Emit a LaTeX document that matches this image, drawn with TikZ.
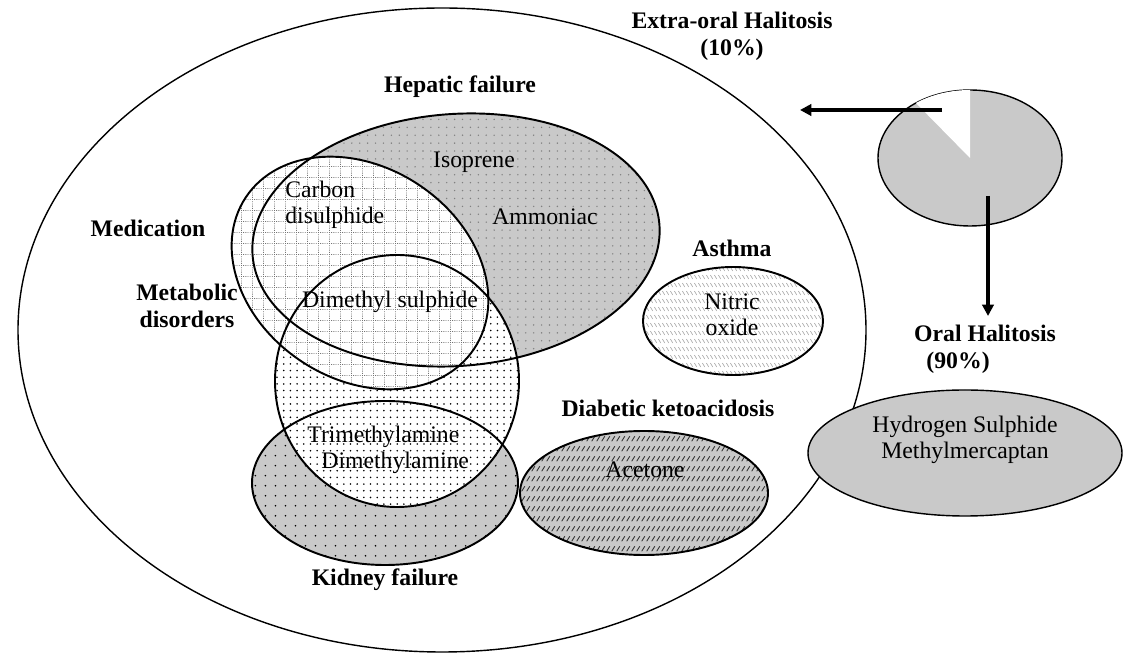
\documentclass[tikz,border=0pt]{standalone}
\usepackage{fontspec}
\setmainfont{Liberation Serif}
\usetikzlibrary{patterns,arrows.meta}
\definecolor{fillg}{gray}{0.79}

\pgfdeclarepatternformonly{hepdots}{\pgfqpoint{-1pt}{-1pt}}{\pgfqpoint{5.5pt}{5.5pt}}{\pgfqpoint{4.5pt}{4.5pt}}{%
  \pgfpathcircle{\pgfqpoint{2.25pt}{2.25pt}}{0.45pt}\pgfusepath{fill}}
\pgfdeclarepatternformonly{metdots}{\pgfqpoint{-1pt}{-1pt}}{\pgfqpoint{4.8pt}{4.8pt}}{\pgfqpoint{3.8pt}{3.8pt}}{%
  \pgfpathcircle{\pgfqpoint{1.9pt}{1.9pt}}{0.5pt}\pgfusepath{fill}}
\pgfdeclarepatternformonly{kiddots}{\pgfqpoint{-1pt}{-1pt}}{\pgfqpoint{6.7pt}{6.7pt}}{\pgfqpoint{5.7pt}{5.7pt}}{%
  \pgfpathcircle{\pgfqpoint{2.85pt}{2.85pt}}{0.5pt}\pgfusepath{fill}}
\pgfdeclarepatternformonly{medgrid}{\pgfqpoint{0pt}{0pt}}{\pgfqpoint{6.25pt}{6.25pt}}{\pgfqpoint{6.25pt}{6.25pt}}{%
  \pgfsetlinewidth{0.45pt}\pgfsetdash{{0.5pt}{0.75pt}}{0pt}%
  \pgfpathmoveto{\pgfqpoint{0pt}{0.3pt}}\pgfpathlineto{\pgfqpoint{6.25pt}{0.3pt}}%
  \pgfpathmoveto{\pgfqpoint{0.3pt}{0pt}}\pgfpathlineto{\pgfqpoint{0.3pt}{6.25pt}}%
  \pgfusepath{stroke}}
\pgfdeclarepatternformonly{nwdash}{\pgfqpoint{0pt}{0pt}}{\pgfqpoint{2.3pt}{4.5pt}}{\pgfqpoint{2.3pt}{4.5pt}}{%
  \pgfsetlinewidth{0.4pt}%
  \pgfpathmoveto{\pgfqpoint{0.3pt}{3.4pt}}\pgfpathlineto{\pgfqpoint{1.9pt}{1.2pt}}\pgfusepath{stroke}}
\pgfdeclarepatternformonly{nedash}{\pgfqpoint{0pt}{0pt}}{\pgfqpoint{2.8pt}{5.6pt}}{\pgfqpoint{2.8pt}{5.6pt}}{%
  \pgfsetlinewidth{0.5pt}%
  \pgfpathmoveto{\pgfqpoint{0.4pt}{1.0pt}}\pgfpathlineto{\pgfqpoint{2.2pt}{3.9pt}}\pgfusepath{stroke}}

\begin{document}
\begin{tikzpicture}[x=0.02cm,y=-0.02cm,
  lab/.style={font=\fontsize{13.5}{15.5}\selectfont\bfseries, align=center, inner sep=0pt},
  txt/.style={font=\fontsize{13.5}{14.5}\selectfont, align=center, inner sep=0pt},
  outl/.style={draw=black, line width=1.1pt},
  thin/.style={draw=black, line width=0.8pt},
  arr/.style={line width=2pt, -{Triangle[length=6.5pt,width=6.5pt]}}]
\useasboundingbox (0,0) rectangle (1123,661);

% outer ellipse (extra-oral)
\draw[thin, fill=white] (442,330) ellipse [x radius=424, y radius=322];

% kidney failure
\path[fill=fillg] (385,483) ellipse [x radius=133, y radius=82];
\path[pattern=kiddots] (385,483) ellipse [x radius=133, y radius=82];
% hepatic failure
\path[fill=fillg, rotate around={4.25:(456,240)}] (456,240) ellipse [x radius=204, y radius=126];
\path[pattern=hepdots, pattern color=black!50, rotate around={4.25:(456,240)}] (456,240) ellipse [x radius=204, y radius=126];
% metabolic disorders
\path[fill=white] (397,381) ellipse [x radius=122, y radius=126];
\path[pattern=metdots] (397,381) ellipse [x radius=122, y radius=126];
% medication
\path[fill=white, rotate around={-33.5:(360,273)}] (360,273) ellipse [x radius=137, y radius=106];
\path[pattern=medgrid, pattern color=black!55, rotate around={-33.5:(360,273)}] (360,273) ellipse [x radius=137, y radius=106];

% outlines
\draw[outl] (385,483) ellipse [x radius=133, y radius=82];
\draw[outl, rotate around={4.25:(456,240)}] (456,240) ellipse [x radius=204, y radius=126];
\draw[outl] (397,381) ellipse [x radius=122, y radius=126];
\draw[outl, rotate around={-33.5:(360,273)}] (360,273) ellipse [x radius=137, y radius=106];

% asthma
\path[fill=white] (733,321) ellipse [x radius=90, y radius=54];
\path[pattern=nwdash, pattern color=black!35] (733,321) ellipse [x radius=90, y radius=54];
\draw[outl] (733,321) ellipse [x radius=90, y radius=54];

% diabetic ketoacidosis
\path[fill=fillg] (644,493) ellipse [x radius=124, y radius=62];
\path[pattern=nedash, pattern color=black!80] (644,493) ellipse [x radius=124, y radius=62];
\draw[outl] (644,493) ellipse [x radius=124, y radius=62];

% pie
\coordinate (pie) at (970,158);
\draw[thin, fill=fillg] (pie) ellipse [x radius=92, y radius=68];
\fill[white] (pie) -- ++(234:92 and 68) arc[start angle=234, end angle=270, x radius=92, y radius=68] -- cycle;

% oral ellipse
\draw[thin, fill=fillg] (965,453) ellipse [x radius=157, y radius=63];

% arrows
\coordinate (la) at (942,110);
\coordinate (lb) at (800,110);
\coordinate (da) at (988,196);
\coordinate (db) at (988,316);
\draw[arr] (la) -- (lb);
\draw[arr] (da) -- (db);

% labels
\node[lab] (extral) at (732,36) {Extra-oral Halitosis\\(10\%)};
\node[lab] (hepl) at (460,87) {Hepatic failure};
\node[lab] (medl) at (148,228) {Medication};
\node[lab] (metl) at (187,306) {Metabolic\\disorders};
\node[lab] (asthl) at (732,248) {Asthma};
\node[lab] (diabl) at (668,408) {Diabetic ketoacidosis};
\node[lab] (kidl) at (385,580) {Kidney failure};
\node[lab, align=left] (orall) at (985,349) {Oral Halitosis\\\hspace*{7pt}(90\%)};

\node[txt] (iso) at (474,162) {Isoprene};
\node[txt] (amm) at (545,217) {Ammoniac};
\node[txt, align=left, anchor=west] (carb) at (285,205) {Carbon\\disulphide};
\node[txt] (dms) at (390,302) {Dimethyl sulphide};
\node[txt, align=left, anchor=west] (tma) at (307,450) {Trimethylamine\\\hspace*{8pt}Dimethylamine};
\node[txt] (nitric) at (732,315) {Nitric\\oxide};
\node[txt] (acet) at (645,470) {Acetone};
\node[txt] (hyd) at (965,440) {Hydrogen Sulphide\\Methylmercaptan};
\end{tikzpicture}
\end{document}
